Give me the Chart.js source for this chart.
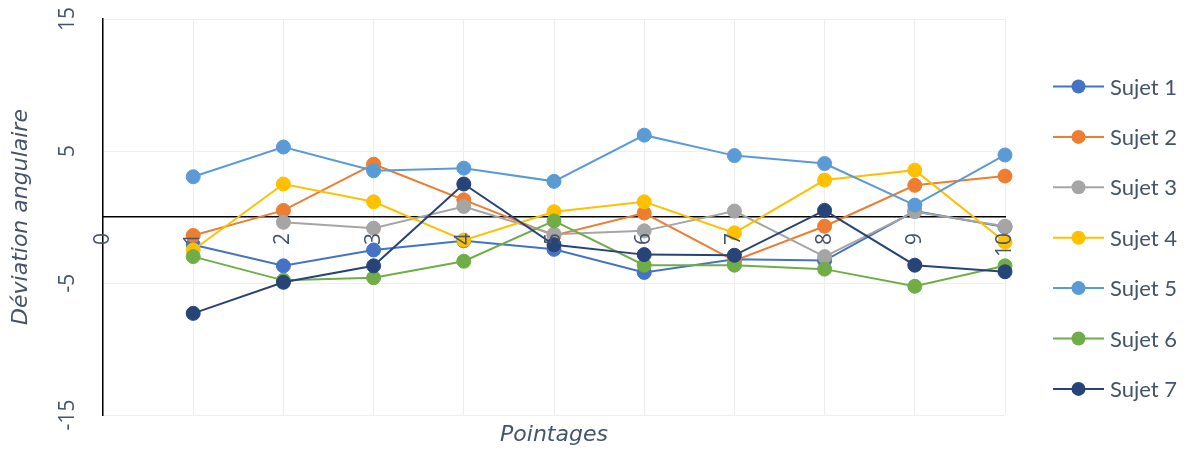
<!DOCTYPE html>
<html>
<head>
<meta charset="utf-8">
<script src="https://cdn.jsdelivr.net/npm/chart.js@4.4.1/dist/chart.umd.min.js"></script>
<style>
  body { margin: 0; background: #fff; }
  .chart-wrap { width: 1188px; height: 452px; position: relative; }
</style>
</head>
<body>
<div class="chart-wrap"><canvas id="deviationChart"></canvas></div>
<script>
// Pointages 1..10, one array per sujet (null = no point)
const pointages = [1, 2, 3, 4, 5, 6, 7, 8, 9, 10];
const sujet1 = [-2.1, -3.7, -2.5, -1.8, -2.45, -4.2, -3.2, -3.3, 0.45, -0.75];
const sujet2 = [-1.4, 0.5, 4.0, 1.3, -1.4, 0.3, -3.3, -0.7, 2.4, 3.1];
const sujet3 = [null, -0.4, -0.85, 0.8, -1.3, -1.05, 0.45, -3.0, 0.4, -0.7];
const sujet4 = [-2.5, 2.5, 1.15, -1.75, 0.4, 1.15, -1.2, 2.8, 3.55, -1.9];
const sujet5 = [3.05, 5.3, 3.5, 3.7, 2.7, 6.2, 4.65, 4.05, 0.9, 4.7];
const sujet6 = [-3.0, -4.8, -4.6, -3.35, -0.3, -3.65, -3.65, -3.95, -5.25, -3.7];
const sujet7 = [-7.3, -4.95, -3.7, 2.5, -2.1, -2.85, -2.9, 0.5, -3.65, -4.15];
const yTicks = [-15, -5, 5, 15];

const sujets = [
  { label: "Sujet 1", values: sujet1, color: "#4472C4" },
  { label: "Sujet 2", values: sujet2, color: "#ED7D31" },
  { label: "Sujet 3", values: sujet3, color: "#A5A5A5" },
  { label: "Sujet 4", values: sujet4, color: "#FFC000" },
  { label: "Sujet 5", values: sujet5, color: "#5B9BD5" },
  { label: "Sujet 6", values: sujet6, color: "#70AD47" },
  { label: "Sujet 7", values: sujet7, color: "#264478" },
];

const textColor = "#44546a";
const gridColor = "#eeeeee";
const titleFont = "'DejaVu Sans', sans-serif";

Chart.defaults.font.family = "'Open Sans', sans-serif";
Chart.defaults.color = textColor;

// Legend on the right: line + marker, drawn from the datasets
const sideLegend = {
  id: "sideLegend",
  afterDraw(chart) {
    const ctx = chart.ctx;
    ctx.save();
    chart.data.datasets.forEach((ds, i) => {
      const cy = 86.5 + i * 50.4;
      ctx.strokeStyle = ds.borderColor;
      ctx.lineWidth = 2;
      ctx.beginPath();
      ctx.moveTo(1053, cy);
      ctx.lineTo(1104, cy);
      ctx.stroke();
      ctx.fillStyle = ds.borderColor;
      ctx.beginPath();
      ctx.arc(1078.5, cy, 7, 0, Math.PI * 2);
      ctx.fill();
      ctx.fillStyle = textColor;
      ctx.font = "22px Lato, sans-serif";
      ctx.textBaseline = "middle";
      ctx.textAlign = "left";
      ctx.fillText(ds.label, 1110, cy + 1);
    });
    ctx.restore();
  },
};

const ctx = document.getElementById("deviationChart").getContext("2d");
const deviationChart = new Chart(ctx, {
  type: "line",
  data: {
    datasets: sujets.map((s, i) => ({
      label: s.label,
      data: pointages.map((p, j) => ({ x: p, y: s.values[j] })),
      borderColor: s.color,
      backgroundColor: s.color,
      pointBackgroundColor: s.color,
      pointBorderColor: s.color,
      borderWidth: 2,
      pointRadius: 7,
      pointBorderWidth: 1,
      fill: false,
      tension: 0,
      spanGaps: false,
      clip: false,
      order: sujets.length - i,
    })),
  },
  options: {
    responsive: true,
    maintainAspectRatio: false,
    animation: false,
    layout: {
      padding: { top: 19, right: 183, left: 0, bottom: 0 },
    },
    plugins: {
      legend: { display: false },
      tooltip: { enabled: false },
      title: {
        display: true,
        text: "Pointages",
        position: "bottom",
        fullSize: false,
        color: textColor,
        font: { family: titleFont, size: 22, style: "italic", weight: "normal" },
        padding: { top: 7, bottom: 3.6 },
      },
    },
    scales: {
      x: {
        type: "linear",
        min: 0,
        max: 10,
        position: { y: 0 },
        grid: { color: gridColor, drawTicks: false },
        border: { color: "#000", width: 1.5 },
        ticks: {
          z: 1, // labels over the markers, like the original
          stepSize: 1,
          autoSkip: false,
          minRotation: 90,
          maxRotation: 90,
          padding: 16,
          color: textColor,
          font: { size: 21 },
        },
      },
      y: {
        min: -15,
        max: 15,
        position: "left",
        afterBuildTicks: (scale) => {
          scale.ticks = yTicks.map((v) => ({ value: v }));
        },
        afterFit: (scale) => {
          scale.width = 103;
          scale.paddingTop = 0;
          scale.paddingBottom = 0;
        },
        grid: { color: gridColor, drawTicks: false },
        border: { color: "#000", width: 1.5 },
        ticks: {
          minRotation: 90,
          maxRotation: 90,
          crossAlign: "center",
          padding: 20,
          color: textColor,
          font: { size: 21 },
        },
        title: {
          display: true,
          text: "Déviation angulaire",
          color: textColor,
          font: { family: titleFont, size: 22, style: "italic", weight: "normal" },
          padding: { top: 8, bottom: 0 },
        },
      },
    },
  },
  plugins: [sideLegend],
});
</script>
</body>
</html>
